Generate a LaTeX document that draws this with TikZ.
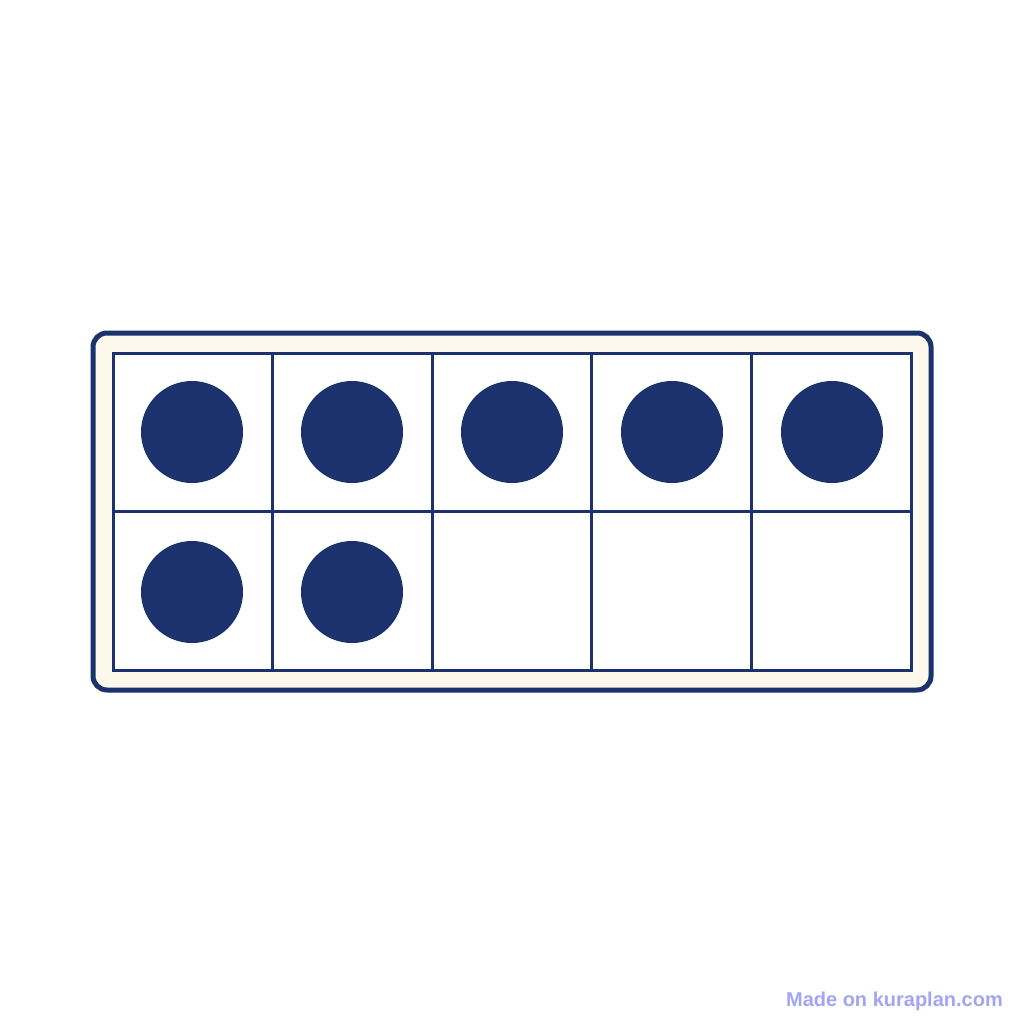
\documentclass[tikz,border=0pt]{standalone}
\usepackage{fontspec}
\setmainfont{Liberation Sans}
\definecolor{navy}{HTML}{1C326C}
\definecolor{cream}{HTML}{FDF8EC}
\definecolor{mark}{HTML}{A4A4F4}
\begin{document}
\begin{tikzpicture}[x=1pt,y=-1pt,
  frame/.style={draw=navy,line width=5pt,fill=cream,rounded corners=14pt},
  cell/.style={draw=navy,line width=3pt,fill=white},
  counter/.style={fill=navy}]
\useasboundingbox[fill=white] (0,0) rectangle (1024,1024);
\draw[frame] (93,333) rectangle (931,690);
\foreach \i in {0,...,4}{
  \foreach \j in {0,1}{
    \draw[cell] ({113+159.6*\i},{353+158.5*\j}) rectangle ({113+159.6*(\i+1)},{353+158.5*(\j+1)});
  }
}
\foreach \i in {0,...,4}{
  \fill[counter] ({192+160*\i},432) circle (51);
}
\foreach \i in {0,1}{
  \fill[counter] ({192+160*\i},592) circle (51);
}
\node[anchor=base east,inner sep=0pt,text=mark,font=\bfseries\fontsize{20}{24}\selectfont] (wm) at (1003,1006) {Made on kuraplan.com};
\end{tikzpicture}
\end{document}
